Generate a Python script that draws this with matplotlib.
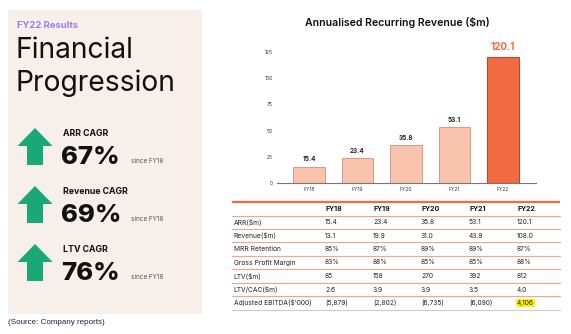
import matplotlib
matplotlib.use("Agg")
import matplotlib.pyplot as plt
from matplotlib.patches import Rectangle, Polygon

# ---------------- data ----------------
years = ["FY18", "FY19", "FY20", "FY21", "FY22"]
arr_values = [15.4, 23.4, 35.8, 53.1, 120.1]
yticks = [0, 25, 50, 75, 100, 125]

kpi_names = ["ARR CAGR", "Revenue CAGR", "LTV CAGR"]
kpi_values = ["67%", "69%", "76%"]
kpi_since = ["since FY18", "since FY18", "since FY18"]

row_labels = ["ARR($m)", "Revenue($m)", "MRR Retention", "Gross Profit Margin",
              "LTV($m)", "LTV/CAC($m)", "Adjusted EBITDA($'000)"]
arr_row = ["15.4", "23.4", "35.8", "53.1", "120.1"]
revenue_row = ["13.1", "19.9", "31.0", "43.9", "108.0"]
mrr_row = ["85%", "87%", "89%", "89%", "87%"]
gpm_row = ["83%", "88%", "85%", "85%", "88%"]
ltv_row = ["85", "158", "270", "392", "812"]
ltvcac_row = ["2.6", "3.9", "3.9", "3.5", "4.0"]
ebitda_row = ["(5,879)", "(2,802)", "(6,735)", "(6,090)", "4,106"]
table_rows = [arr_row, revenue_row, mrr_row, gpm_row, ltv_row, ltvcac_row, ebitda_row]

# ---------------- figure ----------------
W, H = 571, 334
fig = plt.figure(figsize=(W / 100, H / 100), dpi=100)
fig.patch.set_facecolor("white")

ov = fig.add_axes([0, 0, 1, 1])
ov.set_xlim(0, W)
ov.set_ylim(H, 0)
ov.axis("off")

FONT = "Inter"

# left panel
ov.add_patch(Rectangle((8, 10), 194, 304, facecolor="#f7efea", edgecolor="none", zorder=0))
ov.text(17, 25, "FY22 Results", color="#9b7cf2", fontsize=6.8, fontweight="bold",
        family=FONT, va="center", ha="left")
ov.text(15, 50, "Financial", color="#111111", fontsize=20.3, family=FONT, va="center", ha="left")
ov.text(15, 83, "Progression", color="#111111", fontsize=20.3, family=FONT, va="center", ha="left")

green = "#1aa878"
for i, (name, val, since) in enumerate(zip(kpi_names, kpi_values, kpi_since)):
    top = 128 + i * 58
    cx = 35
    poly = Polygon([(cx, top), (cx + 17.5, top + 18), (cx + 8, top + 18), (cx + 8, top + 37),
                    (cx - 8, top + 37), (cx - 8, top + 18), (cx - 17.5, top + 18)],
                   closed=True, facecolor=green, edgecolor="none", zorder=2)
    ov.add_patch(poly)
    ov.text(63, top + 6, name, fontsize=6.3, fontweight="bold", family=FONT,
            color="#111111", va="center", ha="left")
    ov.text(61, top + 29, val, fontsize=18.5, fontweight="heavy", family=FONT,
            color="#111111", va="center", ha="left")
    ov.text(131, top + 33, since, fontsize=4.6, family=FONT, color="#555555",
            va="center", ha="left")

# source
ov.text(8, 322, "(Source: Company reports)", fontsize=5.8, family="Liberation Sans",
        color="#1c2340", va="center", ha="left")

# ---------------- bar chart ----------------
ax_left, ax_right = 277, 536
y0_px, y125_px = 183, 52
ax = fig.add_axes([ax_left / W, 1 - y0_px / H, (ax_right - ax_left) / W, (y0_px - y125_px) / H])
ax.set_facecolor("none")
x = list(range(len(years)))
colors = ["#f9c3ae"] * 4 + ["#f26a41"]
edges = ["#d99a85"] * 4 + ["#b8432a"]
bars = ax.bar(x, arr_values, width=0.64, color=colors, edgecolor=edges, linewidth=0.7, zorder=2)
ax.set_xlim(-0.66, 4.68)
ax.set_ylim(0, 125)
ax.set_yticks(yticks)
ax.set_yticklabels([str(t) for t in yticks], fontsize=3.6, family=FONT, color="#333333")
ax.set_xticks(x)
ax.set_xticklabels(years, fontsize=3.6, family=FONT, color="#333333")
ax.tick_params(length=0, pad=3)
for s in ["top", "right", "left"]:
    ax.spines[s].set_visible(False)
ax.spines["bottom"].set_color("#777777")
ax.spines["bottom"].set_linewidth(0.8)
for i, v in enumerate(arr_values):
    if i < len(arr_values) - 1:
        ax.text(i, v + 4.5, f"{v:.1f}", ha="center", va="bottom", fontsize=4.6,
                fontweight="bold", family=FONT, color="#222222", clip_on=False)
    else:
        ax.text(i, v + 4.5, f"{v:.1f}", ha="center", va="bottom", fontsize=7,
                fontweight="bold", family=FONT, color="#f26a41", clip_on=False)

ov.text(397, 22, "Annualised Recurring Revenue ($m)", fontsize=7.6, fontweight="semibold",
        family=FONT, color="#111111", ha="center", va="center")

# ---------------- table ----------------
tx0, tx1 = 232, 560
col_x = [325, 373, 421, 469, 517]
header_y = 209
row_h = 13.5
ov.plot([tx0, tx1], [201.5, 201.5], color="#f26a41", lw=1.6, solid_capstyle="butt")
for j, yr in enumerate(years):
    ov.text(col_x[j], header_y, yr, fontsize=5, fontweight="bold", family=FONT,
            color="#111111", ha="left", va="center")
ov.plot([tx0, tx1], [216, 216], color="#f6a58c", lw=0.8)
for r, (lab, vals) in enumerate(zip(row_labels, table_rows)):
    yc = header_y + 13 + r * row_h
    ov.text(233.5, yc, lab, fontsize=4.8, family=FONT, color="#222222", ha="left", va="center")
    for j, v in enumerate(vals):
        if r == len(row_labels) - 1 and j == len(vals) - 1:
            ov.text(col_x[j], yc, v, fontsize=4.8, family=FONT, color="#222222",
                    ha="left", va="center",
                    bbox=dict(boxstyle="round,pad=0.15", facecolor="#fff200", edgecolor="none"))
        else:
            ov.text(col_x[j], yc, v, fontsize=4.8, family=FONT, color="#222222",
                    ha="left", va="center")
    sep = yc + row_h / 2
    if r < len(row_labels) - 1:
        ov.plot([tx0, tx1], [sep, sep], color="#f6a58c", lw=0.8)
    else:
        ov.plot([tx0, tx1], [sep, sep], color="#cccccc", lw=0.8)

fig.savefig("out.png", dpi=100)
